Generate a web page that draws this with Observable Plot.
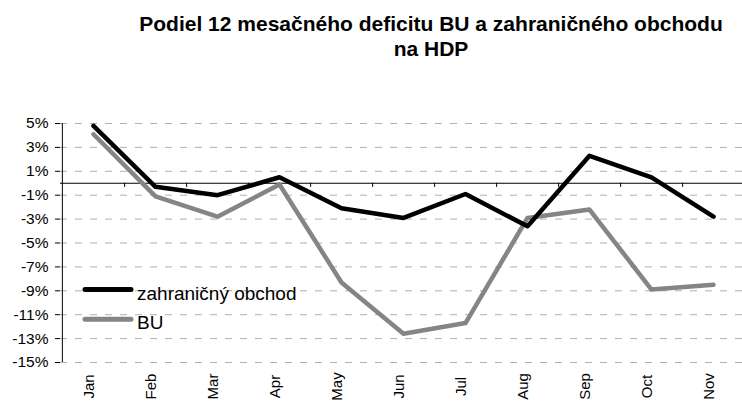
<!DOCTYPE html>
<html>
<head>
<meta charset="utf-8">
<script src="https://cdn.jsdelivr.net/npm/d3@7"></script>
<script src="https://cdn.jsdelivr.net/npm/@observablehq/plot@0.6"></script>
<style>
  html, body { margin: 0; padding: 0; background: white; overflow: hidden; }
  #wrap { position: relative; width: 742px; height: 401px; font-family: "Liberation Sans", Arial, sans-serif; }
  #title { box-sizing: border-box; width: 742px; height: 62px; padding-top: 11px; padding-left: 120px;
           text-align: center; font-weight: bold; font-size: 21px; line-height: 25px; color: #000; }
  #legend { position: absolute; left: 0; top: 0; pointer-events: none; }
  #chart svg { display: block; }
</style>
</head>
<body>
<div id="wrap">
  <div id="title">Podiel 12 mesačného deficitu BU a zahraničného obchodu<br>na HDP</div>
  <div id="chart"></div>
  <svg id="legend" width="742" height="401"></svg>
</div>
<script>
const months = ["Jan", "Feb", "Mar", "Apr", "May", "Jun", "Jul", "Aug", "Sep", "Oct", "Nov"];
const seriesNames = ["zahraničný obchod", "BU"];
const seriesColors = ["#000000", "#858585"];
const obchod = [4.8, -0.3, -1.0, 0.5, -2.1, -2.9, -0.9, -3.6, 2.3, 0.5, -2.8];
const bu = [4.1, -1.1, -2.8, -0.1, -8.3, -12.6, -11.7, -2.9, -2.2, -8.9, -8.5];
const yTicks = [5, 3, 1, -1, -3, -5, -7, -9, -11, -13, -15];

// BU first so the black series is drawn on top
const rows = [
  ...months.map((m, i) => ({month: m, value: bu[i], series: seriesNames[1]})),
  ...months.map((m, i) => ({month: m, value: obchod[i], series: seriesNames[0]}))
];

const xRange = [60, 745];
const halfStep = (xRange[1] - xRange[0]) / months.length / 2;

const chart = Plot.plot({
  width: 742,
  height: 339,
  marginTop: 61,
  marginBottom: 39,
  marginLeft: 60,
  marginRight: 0,
  style: {fontFamily: "'Liberation Sans', Arial, sans-serif", background: "white", color: "black"},
  x: {type: "point", domain: months, range: xRange, padding: 0.5, axis: null},
  y: {domain: [-15, 5], axis: null},
  color: {domain: seriesNames, range: seriesColors},
  marks: [
    Plot.ruleY(yTicks, {stroke: "#b0b0b0", strokeWidth: 1, strokeDasharray: "7,8"}),
    Plot.ruleY([0], {stroke: "black", strokeWidth: 1}),
    Plot.ruleX(months, {x: d => d, dx: halfStep, y1: 0, y2: -0.35, stroke: "black", strokeWidth: 1}),
    Plot.ruleX([months[0]], {x: d => d, dx: -halfStep, y1: -15, y2: 5, stroke: "black", strokeWidth: 1}),
    Plot.axisY(yTicks, {tickSize: 5, tickPadding: 7, tickFormat: d => d + "%", fontSize: 15.5, color: "black", label: null}),
    Plot.line(rows, {x: "month", y: "value", z: "series", stroke: "series", strokeWidth: 4.5, strokeLinejoin: "round", strokeLinecap: "round"}),
    Plot.text(months, {x: d => d, frameAnchor: "bottom", dy: 24, rotate: -90, textAnchor: "middle", fontSize: 15, fill: "black"})
  ]
});
document.getElementById("chart").appendChild(chart);

// legend
const leg = d3.select("#legend");
const legY = [289.5, 319.3];
seriesNames.forEach((name, i) => {
  leg.append("line").attr("x1", 85).attr("x2", 131).attr("y1", legY[i]).attr("y2", legY[i])
    .attr("stroke", seriesColors[i]).attr("stroke-width", 5).attr("stroke-linecap", "round");
  leg.append("text").attr("x", 137).attr("y", legY[i] + 10)
    .attr("font-family", "'Liberation Sans', Arial, sans-serif").attr("font-size", 19)
    .attr("fill", "black").text(name);
});
</script>
</body>
</html>
